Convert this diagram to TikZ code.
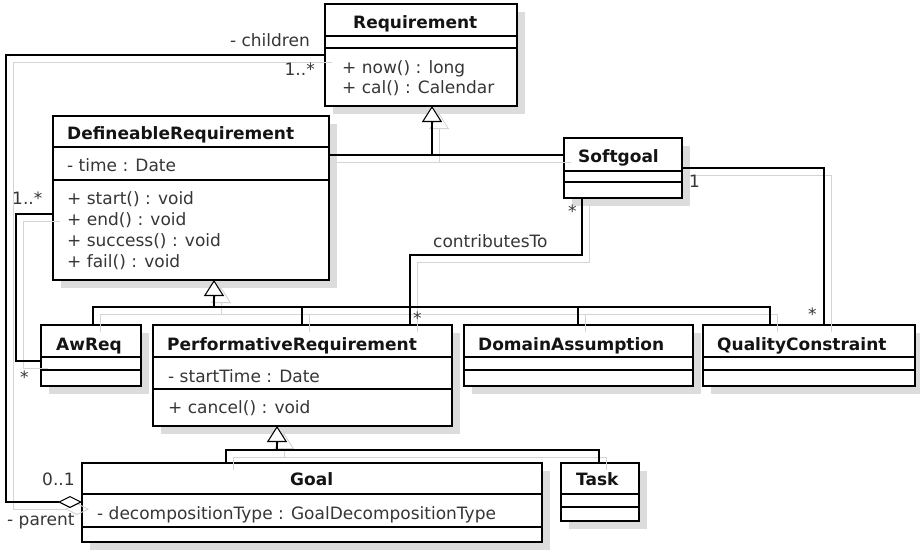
\documentclass[tikz,border=0pt]{standalone}
\usepackage{fontspec}
\setmainfont{DejaVu Sans}
\usetikzlibrary{arrows.meta}
\definecolor{boxshade}{HTML}{DCDCDC}
\definecolor{wireshade}{HTML}{D4D4D4}
\definecolor{ink}{HTML}{363636}

% class box with its drop shadow: name, left, top, right, bottom
\newcommand\umlclass[5]{%
  \fill[boxshade] (#2+8,#3+8) rectangle (#4+8,#5+8);
  \node[classbox, minimum width={(#4)-(#2)}, minimum height={(#5)-(#3)}] (#1) at (#2,#3) {};
}
% compartment divider across a class box at height y
\newcommand\compline[2]{\draw[sepline] (#1.west |- 0,#2) -- (#1.east |- 0,#2);}

% all connectors; drawn once as shadow, once in black
\newcommand\wires{%
  % generalisations into Requirement
  \draw[wire] (dr.east |- 0,155) -- (sg.west |- 0,155);
  \draw[wire, gen] (j1) -- (req.south -| j1);
  % generalisations into DefineableRequirement
  \draw[wire] (aw.north -| 93,0) |- (j2) -| (pr.north -| 302,0);
  \draw[wire] (j2) -| (da.north -| 578,0);
  \draw[wire] (j2) -| (qc.north -| 770,0);
  \draw[wire, gen] (j2) -- (dr.south -| j2);
  % generalisations into PerformativeRequirement
  \draw[wire] (goal.north -| 226,0) |- (j3) -| (task.north -| 599,0);
  \draw[wire, gen] (j3) -- (pr.south -| j3);
  % associations
  \draw[wire] (sg.south -| 582,0) -- (582,255) -- (410,255) -- (pr.north -| 410,0);
  \draw[wire] (sg.east |- 0,168) -| (qc.north -| 824,0);
  \draw[wire, agg] (goal.west |- 0,502) -- (6,502) -- (6,55) -- (req.west |- 0,55);
  \draw[wire] (dr.west |- 0,214) -| (16,361) -- (aw.west |- 0,361);
}

\begin{document}
\begin{tikzpicture}[x=1pt, y=-1pt,
  classbox/.style={draw=black, line width=2.6pt, fill=white, inner sep=0pt, outer sep=0pt, anchor=north west},
  sepline/.style={draw=black, line width=1.2pt},
  txt/.style={font=\fontsize{17}{20}\selectfont, text=ink, inner sep=0pt, anchor=base west},
  nm/.style={font=\fontsize{17}{20}\selectfont\bfseries, text=black!92, inner sep=0pt, anchor=base west},
  wire/.style={draw=black, line width=1.05pt},
  gen/.style={-{Triangle[length=16pt, width=20pt, fill=white]}},
  agg/.style={{Diamond[length=24pt, width=12pt, fill=white]}-}]

\fill[white] (0,0) rectangle (920,550);
\useasboundingbox (0,0) rectangle (920,550);

% classes
\umlclass{req}{325}{4}{517}{106}
\compline{req}{36}\compline{req}{48}
\umlclass{dr}{53}{116}{329}{280}
\compline{dr}{147}\compline{dr}{180}
\umlclass{sg}{564}{138}{682}{198}
\compline{sg}{171}\compline{sg}{182}
\umlclass{aw}{41}{325}{141}{386}
\compline{aw}{357}\compline{aw}{370}
\umlclass{pr}{153}{325}{452}{426}
\compline{pr}{357}\compline{pr}{389}
\umlclass{da}{464}{325}{693}{386}
\compline{da}{357}\compline{da}{370}
\umlclass{qc}{703}{325}{915}{386}
\compline{qc}{357}\compline{qc}{370}
\umlclass{goal}{82}{463}{542}{542}
\compline{goal}{494}\compline{goal}{527}
\umlclass{task}{561}{463}{639}{521}
\compline{task}{494}\compline{task}{507}

% junctions of the generalisation trees
\coordinate (j1) at (432,155);
\coordinate (j2) at (214,307);
\coordinate (j3) at (277,450);

% class contents
\node[nm] (req-t) at (353,28) {Requirement};
\node[txt] (req-m1) at (342,73) {+ now() : long};
\node[txt] (req-m2) at (342,93) {+ cal() : Calendar};

\node[nm] (dr-t) at (67,139) {DefineableRequirement};
\node[txt] (dr-a1) at (67,171.5) {- time : Date};
\node[txt] (dr-m1) at (67,204) {+ start() : void};
\node[txt] (dr-m2) at (67,225) {+ end() : void};
\node[txt] (dr-m3) at (67,246) {+ success() : void};
\node[txt] (dr-m4) at (67,267) {+ fail() : void};

\node[nm] (sg-t) at (578,162) {Softgoal};
\node[nm] (aw-t) at (56,350) {AwReq};
\node[nm] (pr-t) at (167,350) {PerformativeRequirement};
\node[txt] (pr-a1) at (168,382) {- startTime : Date};
\node[txt] (pr-m1) at (168,413) {+ cancel() : void};
\node[nm] (da-t) at (478,350) {DomainAssumption};
\node[nm] (qc-t) at (717,350) {QualityConstraint};
\node[nm] (goal-t) at (290,485) {Goal};
\node[txt] (goal-a1) at (97,519) {- decompositionType : GoalDecompositionType};
\node[nm] (task-t) at (576,485) {Task};

% connector shadows
\begin{scope}[transform canvas={shift={(7,7)}},
  wire/.style={draw=wireshade, line width=0.9pt},
  gen/.style={-{Triangle[length=16pt, width=20pt, fill=none]}},
  agg/.style={{Diamond[length=24pt, width=12pt, fill=none]}-}]
  \wires
\end{scope}
% connectors
\wires

% role names and multiplicities
\node[txt, anchor=base east] (l-children) at (310,46) {- children};
\node[txt, anchor=base east] (l-reqmult) at (315,75) {1..*};
\node[txt] (l-drmult) at (12,204) {1..*};
\node[txt] (l-awmult) at (20,383) {*};
\node[txt] (l-goalmult) at (42,485) {0..1};
\node[txt] (l-parent) at (7,525) {- parent};
\node[txt] (l-contrib) at (433,247) {contributesTo};
\node[txt] (l-sgmult) at (568,217) {*};
\node[txt] (l-prmult) at (413,324) {*};
\node[txt] (l-sgone) at (689,187) {1};
\node[txt] (l-qcmult) at (808,320) {*};

\end{tikzpicture}
\end{document}
